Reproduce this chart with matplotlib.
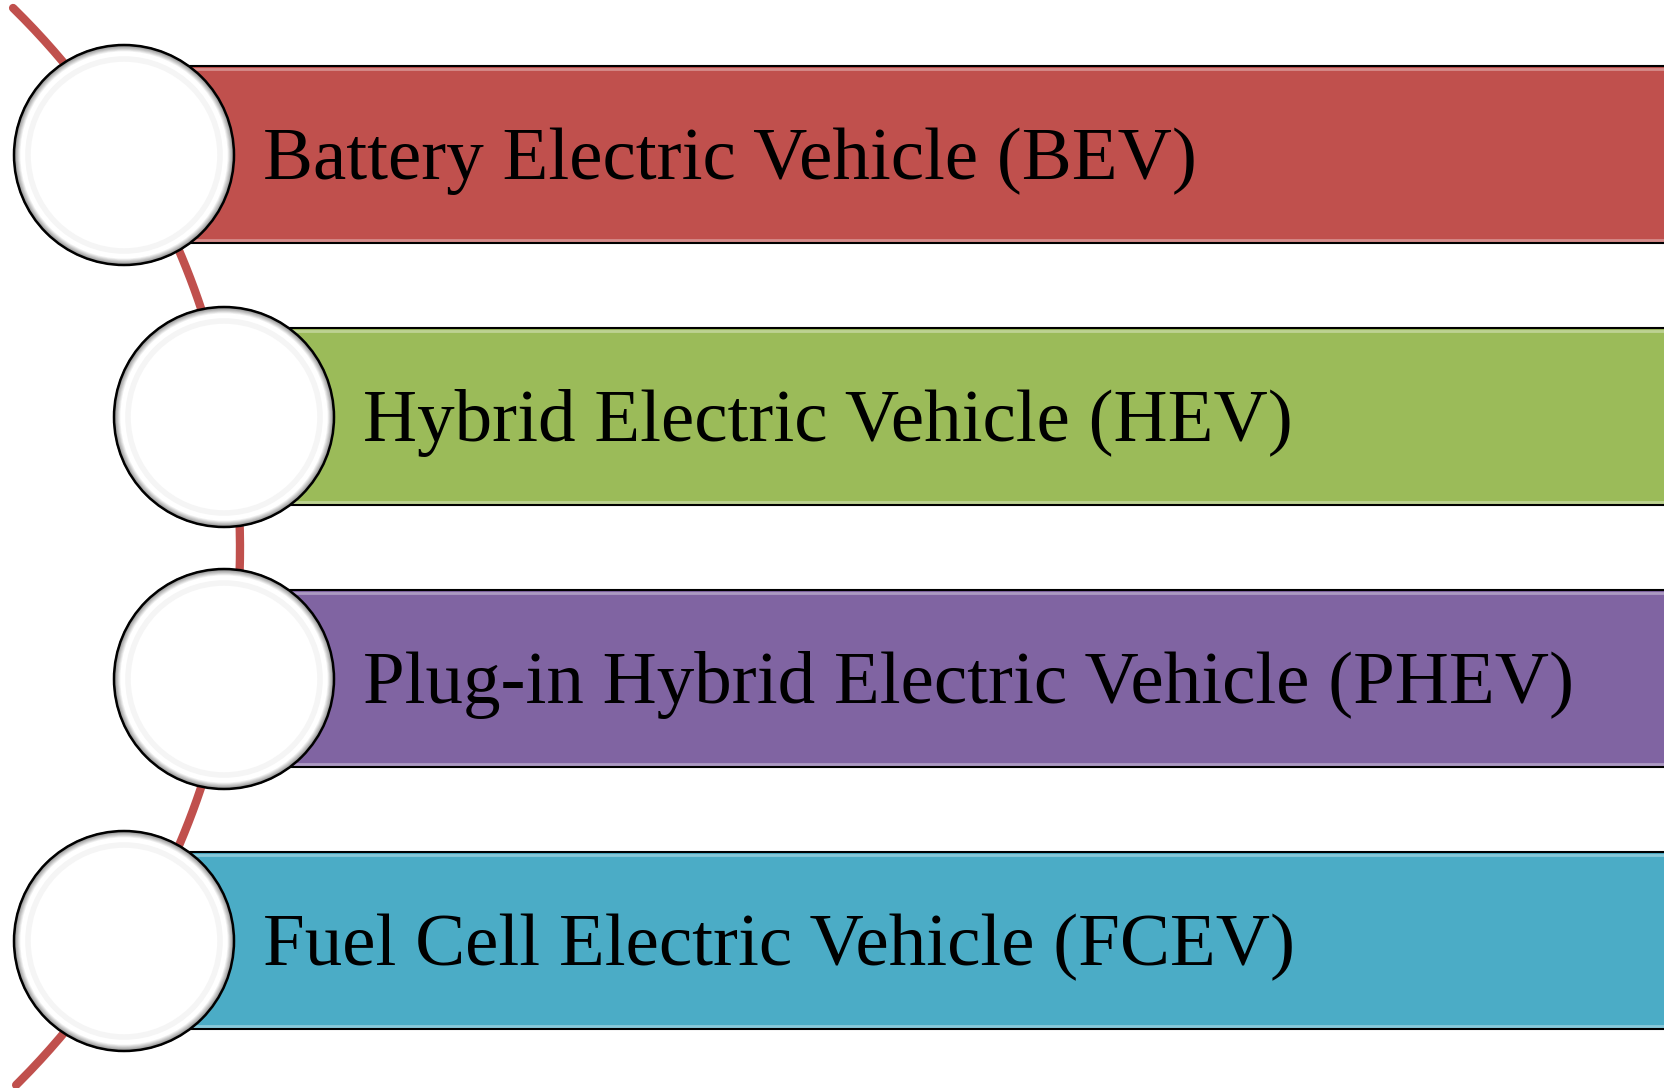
import numpy as np
import matplotlib.pyplot as plt
from matplotlib.patches import Circle, Rectangle

labels = ['Battery Electric Vehicle (BEV)',
          'Hybrid Electric Vehicle (HEV)',
          'Plug-in Hybrid Electric Vehicle (PHEV)',
          'Fuel Cell Electric Vehicle (FCEV)']
colors = ['#C0504D', '#9BBB59', '#8064A2', '#4BACC6']
indent = [0, 1, 1, 0]

W, H = 1665, 1088
fig = plt.figure(figsize=(W / 100, H / 100), dpi=100)
ax = fig.add_axes([0, 0, 1, 1])
ax.set_xlim(0, W)
ax.set_ylim(H, 0)
ax.axis('off')

# the red arc behind the circles
cx, cy, R = -516, 548, 756
yy = np.linspace(8, 1085, 300)
xx = cx + np.sqrt(R ** 2 - (yy - cy) ** 2)
ax.plot(xx, yy, color='#C0504D', lw=6, solid_capstyle='round', zorder=1)

r = 110
step = 262
for i, (lab, col, ind) in enumerate(zip(labels, colors, indent)):
    yc = 155 + i * step
    xc = 124 + ind * 100
    top, bot = yc - 89, yc + 88
    # bar
    ax.add_patch(Rectangle((xc + 60, top), W, bot - top, facecolor=col,
                           edgecolor='none', zorder=2))
    ax.plot([xc + 60, W], [top, top], color='black', lw=1.5, zorder=3)
    ax.plot([xc + 60, W], [bot, bot], color='black', lw=1.5, zorder=3)
    ax.plot([xc + 60, W], [top + 3, top + 3], color='white', lw=2, alpha=0.35, zorder=3)
    ax.plot([xc + 60, W], [bot - 3, bot - 3], color='white', lw=2, alpha=0.35, zorder=3)
    # glossy circle
    ax.add_patch(Circle((xc, yc), r, facecolor='white', edgecolor='none', zorder=4))
    for k in range(10):
        g = 0.5 + 0.5 * k / 9
        ax.add_patch(Circle((xc, yc), r - k * 0.8, facecolor='none',
                            edgecolor=(g, g, g), lw=1.2, zorder=5))
    ax.add_patch(Circle((xc, yc), r - 14, facecolor='none',
                        edgecolor=(0.96, 0.96, 0.96), lw=4, zorder=5))
    ax.add_patch(Circle((xc, yc), r, facecolor='none', edgecolor='black',
                        lw=1.8, zorder=6))
    ax.text(xc + 139, yc + 24, lab, fontsize=54, family='Liberation Serif',
            va='baseline', ha='left', color='black', zorder=7)

fig.savefig('out.png', dpi=100)
